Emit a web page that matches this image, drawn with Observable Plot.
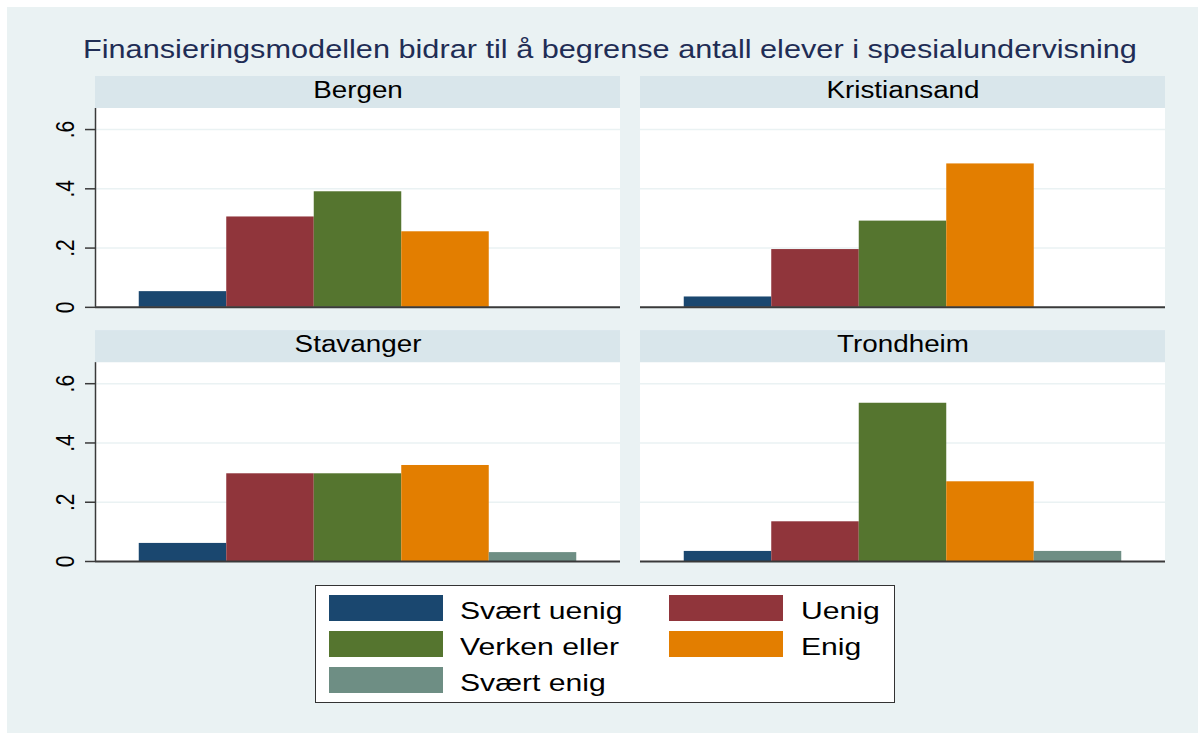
<!DOCTYPE html>
<html><head><meta charset="utf-8">
<script src="https://cdn.jsdelivr.net/npm/d3@7"></script>
<script src="https://cdn.jsdelivr.net/npm/@observablehq/plot@0.6"></script>
<style>
html,body{margin:0;padding:0;background:#fff;width:1198px;height:733px;overflow:hidden;font-family:"Liberation Sans",Arial,sans-serif;}
#bg{position:absolute;left:7px;top:7px;right:0;bottom:0;background:#eaf2f3;}
#title{position:absolute;left:83px;top:36px;font-size:26px;line-height:26px;color:#1f2d55;white-space:nowrap;transform-origin:0 0;transform:scaleX(1.18);}
#chart{position:absolute;left:0;top:0;}
#legend{position:absolute;left:315px;top:585px;width:578px;height:116px;background:#fff;border:1px solid #333;}
.sw{position:absolute;width:114px;height:26px;}
.lb{position:absolute;font-size:24.5px;line-height:26px;white-space:nowrap;transform-origin:0 50%;transform:scaleX(1.23);color:#000;}
</style></head><body>
<div id="bg"></div>
<div id="title"></div>
<div id="chart"></div>
<div id="legend"></div>
<script>
const title = "Finansieringsmodellen bidrar til å begrense antall elever i spesialundervisning";
const cities = ["Bergen", "Kristiansand", "Stavanger", "Trondheim"];
const categories = ["Svært uenig", "Uenig", "Verken eller", "Enig", "Svært enig"];
const colors = ["#1a476f", "#90353b", "#55752f", "#e37e00", "#6e8e84"];
const bergen = [0.053, 0.305, 0.390, 0.255, 0];
const kristiansand = [0.035, 0.195, 0.291, 0.484, 0];
const stavanger = [0.061, 0.296, 0.296, 0.324, 0.030];
const trondheim = [0.034, 0.134, 0.534, 0.269, 0.034];
const yTicks = [0, 0.2, 0.4, 0.6];

const seriesByCity = [bergen, kristiansand, stavanger, trondheim];
const PLOT_TOP = 0.671, STRIP_TOP = 0.779; // y extent of plot region and strip

const rows = [];
cities.forEach((city, c) => seriesByCity[c].forEach((v, i) =>
  rows.push({city, col: c % 2, row: Math.floor(c / 2), cat: categories[i], i, value: v})));
const panels = cities.map((city, c) => ({city, col: c % 2, row: Math.floor(c / 2)}));
const leftPanels = panels.filter(p => p.col === 0);

document.getElementById("title").textContent = title;

const fmt = d => d === 0 ? "0" : d3.format(".1f")(d).replace(/^0/, "");
const tickLabels = yTicks.map(fmt);

const chart = Plot.plot({
  width: 1198, height: 580,
  marginLeft: 95, marginRight: 33, marginTop: 76, marginBottom: 19,
  style: {background: "transparent", fontFamily: "Liberation Sans, Arial, sans-serif", color: "#000"},
  fx: {axis: null, domain: [0, 1], paddingInner: 0.0367, paddingOuter: 0, round: false},
  fy: {axis: null, domain: [0, 1], paddingInner: 0.0917, paddingOuter: 0, round: false},
  x: {domain: [0, categories.length + 1], axis: null},
  y: {domain: [0, STRIP_TOP], axis: null},
  color: {domain: categories, range: colors},
  marks: [
    Plot.rect([0], {y1: 0, y2: PLOT_TOP, fill: "white"}),
    Plot.rect([0], {y1: PLOT_TOP, y2: STRIP_TOP, fill: "#d9e6eb"}),
    Plot.ruleY(yTicks.filter(d => d > 0), {stroke: "#eaf2f3", strokeWidth: 1.5}),
    Plot.rect(rows, {fx: "col", fy: "row", x1: d => d.i + 0.5, x2: d => d.i + 1.5, y1: 0, y2: "value", fill: "cat"}),
    Plot.ruleY([0], {stroke: "#3a3a3a", strokeWidth: 2}),
    Plot.ruleX(leftPanels, {fx: "col", fy: "row", x: d => 0, y1: 0, y2: PLOT_TOP, stroke: "#3a3a3a", strokeWidth: 1.5}),
    Plot.axisY(yTicks, {label: null, tickSize: 10, tickPadding: 12, tickRotate: -90, tickFormat: fmt, fontSize: 21, stroke: "#3a3a3a", strokeWidth: 1.5, fill: "#000"}),
    Plot.text(panels, {fx: "col", fy: "row", text: "city", y: (PLOT_TOP + STRIP_TOP) / 2, dy: -2, fontSize: 23, fill: "#000"})
  ]
});
document.getElementById("chart").appendChild(chart);

// horizontal stretch of texts, as in the reference rendering
function stretch(el, sx, sy) {
  const t = el.getAttribute("transform");
  if (t) el.setAttribute("transform", t + ` scale(${sx},${sy})`);
  else {
    const x = +el.getAttribute("x") || 0, y = +el.getAttribute("y") || 0;
    el.setAttribute("transform", `translate(${x},${y}) scale(${sx},${sy}) translate(${-x},${-y})`);
  }
}
d3.select(chart).selectAll("text").each(function() {
  const s = this.textContent;
  if (cities.includes(s)) stretch(this, 1.21, 1);
  else if (tickLabels.includes(s)) stretch(this, 1, 1.2);
});

// legend
const legend = document.getElementById("legend");
const swLeft = [13, 353], lbLeft = [144, 485], rowTop = [9, 45, 81];
categories.forEach((cat, i) => {
  const c = i % 2, r = Math.floor(i / 2);
  const sw = document.createElement("div");
  sw.className = "sw";
  sw.style.left = swLeft[c] + "px"; sw.style.top = rowTop[r] + "px"; sw.style.background = colors[i];
  legend.appendChild(sw);
  const lb = document.createElement("div");
  lb.className = "lb";
  lb.style.left = lbLeft[c] + "px"; lb.style.top = (rowTop[r] + 3) + "px";
  lb.textContent = cat;
  legend.appendChild(lb);
});
</script>
</body></html>
